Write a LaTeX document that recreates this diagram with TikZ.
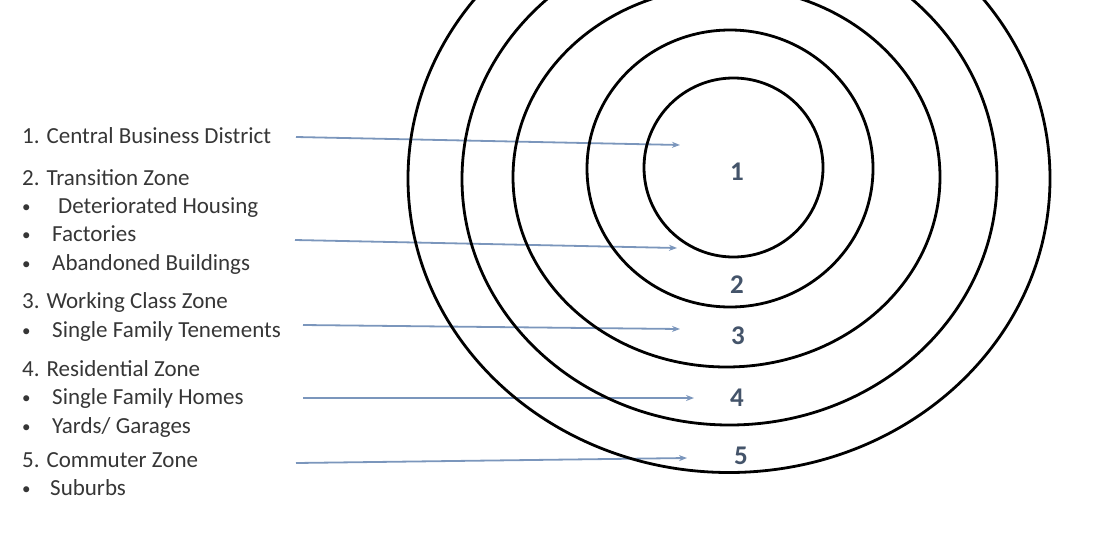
\documentclass[tikz,border=0pt]{standalone}
\usepackage{fontspec}
\setmainfont{Carlito}
\usetikzlibrary{arrows.meta}
\definecolor{txtgray}{HTML}{363636}
\definecolor{arrblue}{HTML}{7B96BC}
\definecolor{numblue}{HTML}{44546A}
\tikzset{
  lbl/.style={anchor=base west, inner sep=0pt, text=txtgray, font=\fontsize{23}{27}\selectfont},
  bul/.style={anchor=base west, inner sep=0pt, text=txtgray, font=\fontsize{17}{20}\selectfont},
  zonenum/.style={inner sep=0pt, text=numblue, font=\fontsize{27}{30}\selectfont\bfseries},
  ring/.style={draw=black, line width=2.8pt},
  pointer/.style={draw=arrblue, line width=1.8pt, -{Stealth[length=8pt,width=6pt]}}
}
\begin{document}
\begin{tikzpicture}[x=1pt,y=-1pt]
\useasboundingbox (0,0) rectangle (1118,536);
% labels
\node[lbl] (t1) at (22,143) {1. Central Business District};
\node[lbl] (t2) at (22,185) {2. Transition Zone};
\node[bul] (b21) at (22,212) {•};
\node[lbl] (t21) at (58,213) {Deteriorated Housing};
\node[bul] (b22) at (22,240.5) {•};
\node[lbl] (t22) at (52,241.5) {Factories};
\node[bul] (b23) at (22,269) {•};
\node[lbl] (t23) at (52,270) {Abandoned Buildings};
\node[lbl] (t3) at (22,308) {3. Working Class Zone};
\node[bul] (b31) at (22,336) {•};
\node[lbl] (t31) at (52,337) {Single Family Tenements};
\node[lbl] (t4) at (22,376) {4. Residential Zone};
\node[bul] (b41) at (22,403) {•};
\node[lbl] (t41) at (52,404) {Single Family Homes};
\node[bul] (b42) at (22,432) {•};
\node[lbl] (t42) at (52,433) {Yards/ Garages};
\node[lbl] (t5) at (22,467) {5. Commuter Zone};
\node[bul] (b51) at (22,494) {•};
\node[lbl] (t51) at (50,495) {Suburbs};
% pointer ends
\coordinate (a1s) at (296,137); \coordinate (a1e) at (680,145);
\coordinate (a2s) at (295,240); \coordinate (a2e) at (677,248);
\coordinate (a3s) at (303,325); \coordinate (a3e) at (680,329);
\coordinate (a4s) at (303,398); \coordinate (a4e) at (694,398);
\coordinate (a5s) at (296,463); \coordinate (a5e) at (687,458);
\draw[pointer] (a1s) -- (a1e);
\draw[pointer] (a2s) -- (a2e);
\draw[pointer] (a3s) -- (a3e);
\draw[pointer] (a4s) -- (a4e);
\draw[pointer] (a5s) -- (a5e);
% rings
\draw[ring] (733.5,167.5) ellipse [x radius=89.5, y radius=89.5];
\draw[ring] (730,168.5) ellipse [x radius=143, y radius=138.5];
\draw[ring] (726.5,177) ellipse [x radius=213.5, y radius=190];
\draw[ring] (729.5,179) ellipse [x radius=267.5, y radius=246];
\draw[ring] (729,178.5) ellipse [x radius=321, y radius=294];
% zone numbers
\node[zonenum] (n1) at (737,172) {1};
\node[zonenum] (n2) at (737,285) {2};
\node[zonenum] (n3) at (738,336) {3};
\node[zonenum] (n4) at (737,398) {4};
\node[zonenum] (n5) at (741,456) {5};
\end{tikzpicture}
\end{document}
